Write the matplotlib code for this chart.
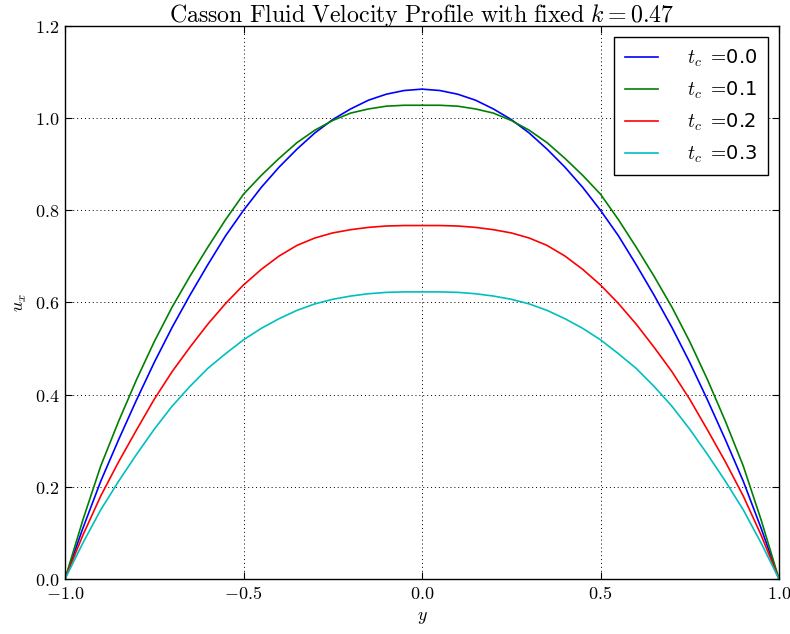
import matplotlib
matplotlib.use("Agg")
import matplotlib.pyplot as plt
from matplotlib.ticker import FuncFormatter, MultipleLocator

plt.rcParams['mathtext.fontset'] = 'cm'
plt.rcParams['font.family'] = ['DejaVu Sans']

y_pos = [-1.0, -0.95, -0.9, -0.85, -0.8, -0.75, -0.7, -0.65, -0.6, -0.55, -0.5,
         -0.45, -0.4, -0.35, -0.3, -0.25, -0.2, -0.15, -0.1, -0.05, 0.0,
         0.05, 0.1, 0.15, 0.2, 0.25, 0.3, 0.35, 0.4, 0.45, 0.5,
         0.55, 0.6, 0.65, 0.7, 0.75, 0.8, 0.85, 0.9, 0.95, 1.0]

u_tc00 = [0.0, 0.110, 0.212, 0.302, 0.388, 0.470, 0.546, 0.616, 0.682, 0.745, 0.800,
          0.850, 0.894, 0.933, 0.968, 0.997, 1.020, 1.039, 1.052, 1.060, 1.063,
          1.060, 1.052, 1.039, 1.020, 0.997, 0.968, 0.933, 0.894, 0.850, 0.800,
          0.745, 0.682, 0.616, 0.546, 0.470, 0.388, 0.302, 0.212, 0.110, 0.0]

u_tc01 = [0.0, 0.128, 0.245, 0.342, 0.432, 0.515, 0.590, 0.657, 0.720, 0.780, 0.835,
          0.876, 0.913, 0.947, 0.974, 0.995, 1.011, 1.020, 1.026, 1.028, 1.028,
          1.028, 1.026, 1.020, 1.011, 0.995, 0.974, 0.947, 0.913, 0.876, 0.835,
          0.780, 0.720, 0.657, 0.590, 0.515, 0.432, 0.342, 0.245, 0.128, 0.0]

u_tc02 = [0.0, 0.095, 0.180, 0.254, 0.323, 0.390, 0.450, 0.503, 0.553, 0.598, 0.638,
          0.672, 0.701, 0.724, 0.740, 0.751, 0.758, 0.763, 0.766, 0.767, 0.767,
          0.767, 0.766, 0.763, 0.758, 0.751, 0.740, 0.724, 0.701, 0.672, 0.638,
          0.598, 0.553, 0.503, 0.450, 0.390, 0.323, 0.254, 0.180, 0.095, 0.0]

u_tc03 = [0.0, 0.078, 0.150, 0.212, 0.270, 0.325, 0.375, 0.418, 0.457, 0.489, 0.519,
          0.544, 0.565, 0.583, 0.597, 0.607, 0.614, 0.619, 0.622, 0.623, 0.623,
          0.623, 0.622, 0.619, 0.614, 0.607, 0.597, 0.583, 0.565, 0.544, 0.519,
          0.489, 0.457, 0.418, 0.375, 0.325, 0.270, 0.212, 0.150, 0.078, 0.0]

series = [u_tc00, u_tc01, u_tc02, u_tc03]
tc_labels = ['0.0', '0.1', '0.2', '0.3']
colors = ['#0000ff', '#008000', '#ff0000', '#00bfbf']

fig = plt.figure(figsize=(7.9, 6.34), dpi=100)
ax = fig.add_axes([65/790, 55/634, (779-65)/790, (579-26)/634])

for u, lab, c in zip(series, tc_labels, colors):
    ax.plot(y_pos, u, color=c, lw=1.2, label=r'$t_c\ {=}\!$' + lab)

ax.set_xlim(-1.0, 1.0)
ax.set_ylim(0.0, 1.2)
ax.xaxis.set_major_locator(MultipleLocator(0.5))
ax.yaxis.set_major_locator(MultipleLocator(0.2))
fmt = FuncFormatter(lambda v, p: r'$%.1f$' % v)
ax.xaxis.set_major_formatter(fmt)
ax.yaxis.set_major_formatter(fmt)
ax.tick_params(direction='in', top=True, right=True, length=5, width=0.8,
               labelsize=13, pad=4)
ax.grid(True, linestyle=(0, (1, 3)), color='k', lw=0.7)
for s in ax.spines.values():
    s.set_linewidth(1.0)
    s.set_color('k')

ax.set_xlabel(r'$y$', fontsize=13)
ax.set_ylabel(r'$u_x$', fontsize=13)
ax.set_title(r'$\mathrm{Casson\ Fluid\ Velocity\ Profile\ with\ fixed}\ k=0.47$',
             fontsize=17.2, pad=3)

leg = ax.legend(loc='upper right', fontsize=14, fancybox=False, framealpha=1,
                edgecolor='k', borderpad=0.55, labelspacing=0.55, handlelength=1.7,
                handletextpad=1.5, borderaxespad=0.55)
leg.get_frame().set_linewidth(1.0)

fig.savefig('out.png', dpi=100)
